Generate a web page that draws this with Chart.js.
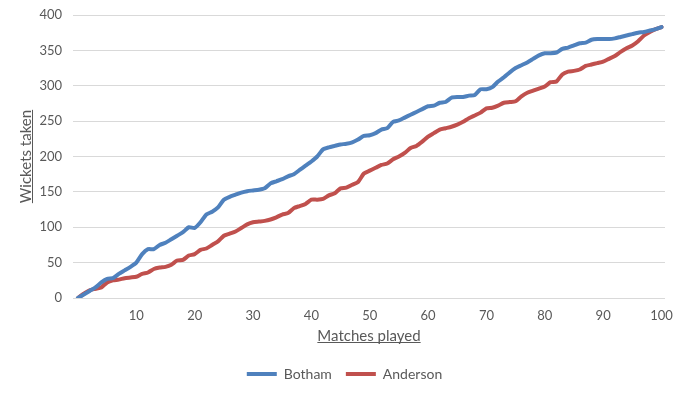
<!DOCTYPE html>
<html>
<head>
<meta charset="utf-8">
<script src="https://cdn.jsdelivr.net/npm/chart.js@4.4.1/dist/chart.umd.min.js"></script>
<style>
  html, body { margin: 0; padding: 0; background: #fff; }
  #wrap { width: 686px; height: 395px; }
</style>
</head>
<body>
<div id="wrap"><canvas id="wicketsChart" width="686" height="395"></canvas></div>
<script>
// Matches played (0..100)
const matches = [];
for (let i = 0; i <= 100; i++) matches.push(i);

// Cumulative wickets
const botham = [
  0, 5, 10, 15, 22, 27, 28, 34, 39, 44,
  50, 62, 69, 69, 75, 78, 83, 88, 93, 100,
  99, 107, 118, 122, 128, 139, 143, 146, 149, 151,
  152, 153, 155, 162, 165, 168, 172, 175, 181, 187,
  193, 200, 210, 213, 215, 217, 218, 220, 224, 229,
  230, 233, 238, 240, 249, 251, 255, 259, 263, 267,
  271, 272, 276, 277, 283, 284, 284, 286, 287, 295,
  295, 298, 306, 312, 319, 325, 329, 333, 338, 343,
  346, 346, 347, 352, 354, 357, 360, 361, 365, 366,
  366, 366, 367, 369, 371, 373, 375, 376, 378, 380,
  383
];
const anderson = [
  0, 6, 11, 13, 15, 22, 25, 26, 28, 29,
  30, 34, 36, 41, 43, 44, 47, 53, 54, 60,
  62, 68, 70, 75, 80, 88, 91, 94, 99, 104,
  107, 108, 109, 111, 114, 118, 120, 127, 130, 133,
  139, 139, 140, 145, 148, 155, 156, 160, 164, 176,
  180, 184, 188, 190, 196, 200, 205, 212, 215, 221,
  228, 233, 238, 240, 242, 245, 249, 254, 258, 262,
  268, 269, 272, 276, 277, 278, 285, 290, 293, 296,
  299, 305, 306, 316, 320, 321, 323, 328, 330, 332,
  334, 338, 342, 348, 353, 357, 363, 371, 376, 380,
  383
];

const xTicks = [10, 20, 30, 40, 50, 60, 70, 80, 90, 100];
const yTicks = [0, 50, 100, 150, 200, 250, 300, 350, 400];

const textColor = '#595959';
const fontFamily = 'Lato, "Open Sans", sans-serif';

// Excel-style underlined axis titles
const underlineTitles = {
  id: 'underlineTitles',
  afterDraw(chart) {
    const ctx = chart.ctx;
    ctx.save();
    ctx.strokeStyle = textColor;
    ctx.lineWidth = 1;
    Object.values(chart.scales).forEach(scale => {
      const t = scale.options.title;
      if (!t.display) return;
      const font = Chart.helpers.toFont(t.font);
      const pad = Chart.helpers.toPadding(t.padding);
      ctx.font = font.string;
      const w = ctx.measureText(t.text).width;
      if (scale.isHorizontal()) {
        const cx = (scale.left + scale.right) / 2;
        const cy = scale.bottom - font.lineHeight / 2 - pad.bottom;
        const uy = Math.round(cy + font.size * 0.42) + 0.5;
        ctx.beginPath();
        ctx.moveTo(cx - w / 2, uy);
        ctx.lineTo(cx + w / 2, uy);
        ctx.stroke();
      } else {
        const cx = scale.left + font.lineHeight / 2 + pad.top;
        const cy = (scale.top + scale.bottom) / 2;
        const ux = Math.round(cx + font.size * 0.42) + 0.5;
        ctx.beginPath();
        ctx.moveTo(ux, cy - w / 2);
        ctx.lineTo(ux, cy + w / 2);
        ctx.stroke();
      }
    });
    ctx.restore();
  }
};

const ctx = document.getElementById('wicketsChart').getContext('2d');
const wicketsChart = new Chart(ctx, {
  type: 'line',
  data: {
    datasets: [{
      label: 'Botham',
      data: matches.map((m, i) => ({ x: m, y: botham[i] })),
      borderColor: '#4F81BD',
      backgroundColor: '#4F81BD',
      borderWidth: 4,
      borderCapStyle: 'round',
      borderJoinStyle: 'round',
      pointRadius: 0,
      tension: 0.2,
      fill: false
    }, {
      label: 'Anderson',
      data: matches.map((m, i) => ({ x: m, y: anderson[i] })),
      borderColor: '#C0504D',
      backgroundColor: '#C0504D',
      borderWidth: 4,
      borderCapStyle: 'round',
      borderJoinStyle: 'round',
      pointRadius: 0,
      tension: 0.2,
      fill: false
    }]
  },
  options: {
    responsive: false,
    animation: false,
    layout: { padding: { top: 15, right: 9, bottom: 4, left: 12 } },
    plugins: {
      legend: {
        position: 'bottom',
        labels: {
          usePointStyle: true,
          pointStyle: 'line',
          pointStyleWidth: 30,
          padding: 14,
          color: textColor,
          font: { family: fontFamily, size: 14 }
        }
      },
      tooltip: { enabled: false }
    },
    scales: {
      x: {
        type: 'linear',
        min: -0.85,
        max: 100.6,
        afterBuildTicks: scale => { scale.ticks = xTicks.map(v => ({ value: v })); },
        afterFit: scale => {
          scale.height = 55;
          scale.paddingLeft = 0;
          scale.paddingRight = 21;
        },
        grid: { display: false, drawTicks: false },
        border: { display: false },
        ticks: {
          padding: 10,
          maxRotation: 0,
          autoSkip: false,
          color: textColor,
          font: { family: fontFamily, size: 13 }
        },
        title: {
          display: true,
          text: 'Matches played',
          color: textColor,
          padding: { top: 0, bottom: 8 },
          font: { family: fontFamily, size: 15 }
        }
      },
      y: {
        min: 0,
        max: 400,
        afterBuildTicks: scale => { scale.ticks = yTicks.map(v => ({ value: v })); },
        afterFit: scale => {
          scale.width = 61;
          scale.paddingTop = 0;
          scale.paddingBottom = 0;
        },
        grid: { color: '#D9D9D9', lineWidth: 1, drawTicks: false },
        border: { display: false },
        ticks: {
          padding: 11,
          color: textColor,
          font: { family: fontFamily, size: 13 }
        },
        title: {
          display: true,
          text: 'Wickets taken',
          color: textColor,
          padding: { top: 5, bottom: 0 },
          font: { family: fontFamily, size: 15 }
        }
      }
    }
  },
  plugins: [underlineTitles]
});
</script>
</body>
</html>
